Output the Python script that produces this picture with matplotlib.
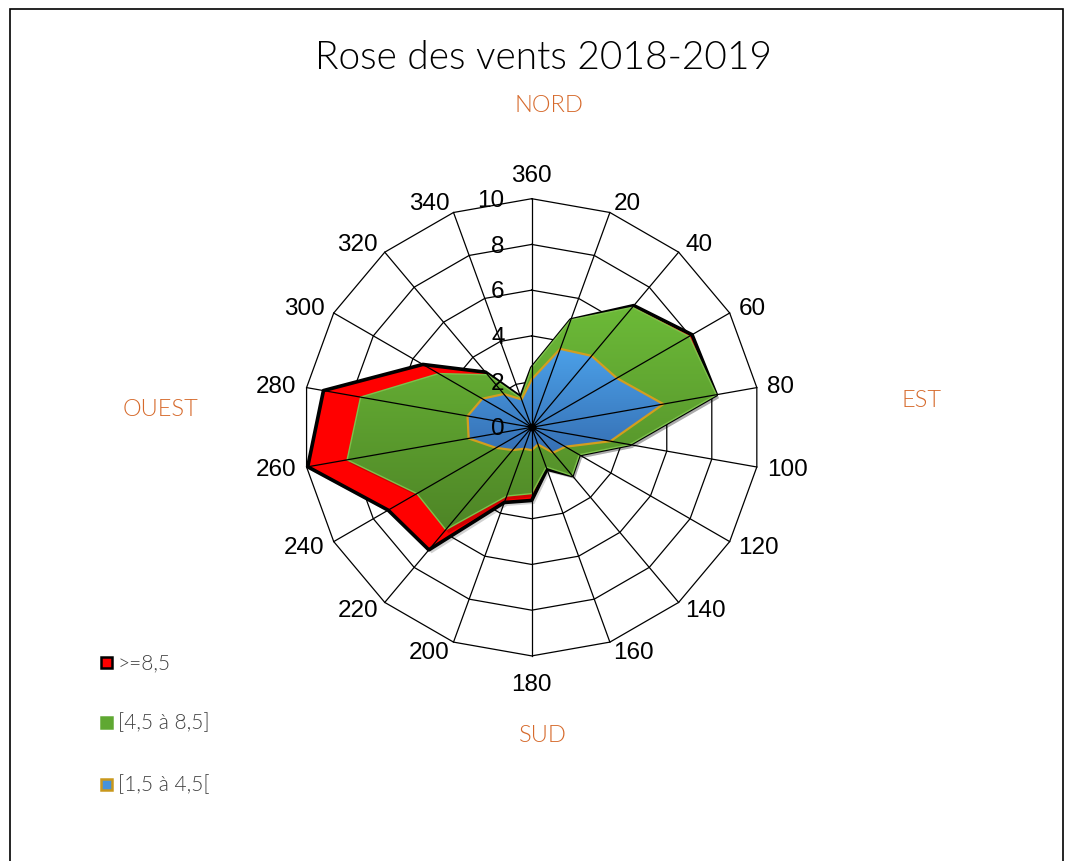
import numpy as np
import matplotlib
matplotlib.use("Agg")
import matplotlib.pyplot as plt
from matplotlib.patches import Polygon, Rectangle
from matplotlib.colors import LinearSegmentedColormap

# wind directions (degrees, clockwise from north)
directions = [360, 20, 40, 60, 80, 100, 120, 140, 160, 180, 200, 220, 240, 260, 280, 300, 320, 340]

# wind frequency per speed class (cumulative)
high_speed = [2.6, 5.0, 6.95, 8.1, 8.2, 4.35, 2.4, 2.75, 1.95, 3.2, 3.5, 7.0, 7.25, 9.95, 9.25, 5.5, 3.15, 1.4]
mid_speed = [2.6, 5.0, 6.85, 7.95, 8.2, 4.35, 2.4, 2.75, 1.85, 2.9, 3.2, 5.85, 5.8, 8.2, 7.6, 4.7, 3.0, 1.35]
low_speed = [2.1, 3.65, 4.08, 4.3, 5.85, 3.5, 1.7, 1.45, 0.8, 1.0, 1.0, 1.3, 1.8, 2.8, 2.85, 2.5, 1.9, 1.3]

series_labels = [">=8,5", "[4,5 à 8,5]", "[1,5 à 4,5["]
radial_ticks = [0, 2, 4, 6, 8, 10]
cardinal_labels = ["NORD", "EST", "SUD", "OUEST"]

title = "Rose des vents 2018-2019"

# pixel geometry of the reference image
W, H = 1066, 862
CX, CY = 531.7, 428.3
S = 22.86  # pixels per unit

ORANGE = "#D66A2C"


def px(x, y):
    # convert a pixel position of the picture into data coordinates
    return (x - CX) / S, (CY - y) / S


def to_xy(angles, values):
    a = np.deg2rad(np.asarray(angles, dtype=float))
    v = np.asarray(values, dtype=float)
    return v * np.sin(a), v * np.cos(a)


def gradient_fill(ax, xs, ys, c_top, c_bot, edge, lw, z):
    poly = Polygon(np.column_stack([xs, ys]), closed=True, facecolor="none",
                   edgecolor=edge, lw=lw, zorder=z + 0.1, joinstyle="round")
    ax.add_patch(poly)
    cmap = LinearSegmentedColormap.from_list("g", [c_bot, c_top])
    grad = np.linspace(1, 0, 256).reshape(-1, 1)
    im = ax.imshow(grad, cmap=cmap, extent=[xs.min(), xs.max(), ys.min(), ys.max()],
                   origin="upper", aspect="auto", zorder=z, interpolation="bilinear")
    im.set_clip_path(poly)
    return poly


fig = plt.figure(figsize=(W / 100, H / 100), dpi=100)
ax = fig.add_axes([0, 0, 1, 1])
ax.axis("off")

font = ["Lato", "DejaVu Sans"]
num_font = ["Liberation Sans", "DejaVu Sans"]

# outer frame of the chart area
fig.patches.append(Rectangle((10 / W, -0.01), (1063 - 10) / W, 1.0 - 10 / H + 0.01,
                             transform=fig.transFigure, fill=False, edgecolor="black", lw=1.2))

# polygonal grid rings
ring_angles = directions + [directions[0]]
for r in radial_ticks[1:]:
    gx, gy = to_xy(ring_angles, [r] * len(ring_angles))
    ax.plot(gx, gy, color="black", lw=0.9, zorder=1)

# red: all speeds >= 8.5
rx, ry = to_xy(directions, high_speed)
ax.add_patch(Polygon(np.column_stack([rx + 0.12, ry - 0.15]), closed=True, facecolor="#000000",
                     alpha=0.18, edgecolor="none", zorder=1.5))
ax.add_patch(Polygon(np.column_stack([rx, ry]), closed=True, facecolor="#FF0000",
                     edgecolor="black", lw=2.6, zorder=2, joinstyle="round"))

# green
gx, gy = to_xy(directions, mid_speed)
ax.add_patch(Polygon(np.column_stack([gx + 0.12, gy - 0.15]), closed=True, facecolor="#000000",
                     alpha=0.18, edgecolor="none", zorder=2.5))
gradient_fill(ax, gx, gy, "#6CBA38", "#4E8526", "#7DC24B", 1.0, 3)

# blue
bx, by = to_xy(directions, low_speed)
gradient_fill(ax, bx, by, "#4BA0E8", "#3670B4", "#D39E1E", 1.6, 4)

# spokes drawn on top of the fills
for d in directions:
    sx, sy = to_xy([d, d], [0, 10])
    ax.plot(sx, sy, color="black", lw=0.9, zorder=5)
ax.plot([0], [0], "o", color="black", ms=5, zorder=6)

# direction labels, anchored just outside the outer ring
for d in directions:
    s, c = np.sin(np.deg2rad(d)), np.cos(np.deg2rad(d))
    ha = "left" if s > 0.01 else ("right" if s < -0.01 else "center")
    va = "center"
    rad = 10.45
    if abs(s) < 0.01:
        va = "bottom" if c > 0 else "top"
        rad = 10.55 if c > 0 else 10.75
    lx, ly = to_xy([d], [rad])
    ax.text(lx[0], ly[0], str(d), ha=ha, va=va, fontsize=17.5,
            family=num_font, color="black", zorder=7)

# radial tick labels
for r in radial_ticks:
    ax.text(-1.18, r - 0.05, str(r), ha="right", va="center", fontsize=17.5,
            family=num_font, color="black", zorder=7)

# title and cardinal points
tx, ty = px(543, 58)
ax.text(tx, ty, title, ha="center", va="center", fontsize=28, fontweight=300,
        family=font, color="black")
card_pos = [(549, 106), (922, 401), (543, 735), (160, 410)]
for lab, (x, y) in zip(cardinal_labels, card_pos):
    cx_, cy_ = px(x, y)
    ax.text(cx_, cy_, lab, ha="center", va="center", fontsize=17, fontweight=300,
            family=font, color=ORANGE)

# legend
leg_face = ["#FF0000", "#5FA832", "#4592DA"]
leg_edge = ["black", "#5FA832", "#C9981C"]
leg_y = [663, 723, 785]
for lab, fc, ec, y in zip(series_labels, leg_face, leg_edge, leg_y):
    x0, y0 = px(101, y + 5.5)
    ax.add_patch(Rectangle((x0, y0), 11 / S, 11 / S, facecolor=fc, edgecolor=ec, lw=1.8, zorder=7))
    lx, ly = px(118, y)
    ax.text(lx, ly, lab, ha="left", va="center", fontsize=15, fontweight=300,
            family=font, color="#404040")

ax.set_xlim(-CX / S, (W - CX) / S)
ax.set_ylim((CY - H) / S, CY / S)

fig.savefig("out.png", dpi=100)
